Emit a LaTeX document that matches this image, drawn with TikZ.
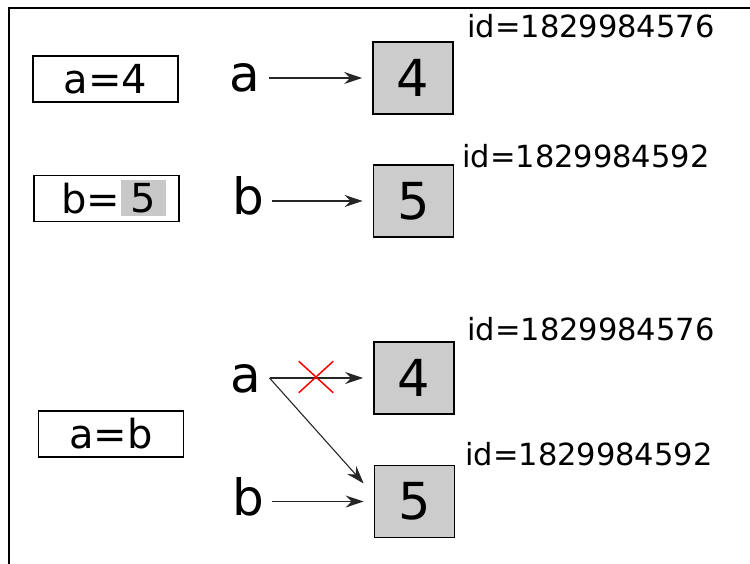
\documentclass[tikz,border=0pt]{standalone}
\usepackage{fontspec}
\setmainfont{DejaVu Sans}
\usetikzlibrary{arrows.meta,shapes.misc}
\definecolor{cellgray}{HTML}{CCCCCC}
\definecolor{hlgray}{HTML}{C8C8C8}
\tikzset{
  assign/.style={draw=black, line width=1.4pt, minimum width=145pt, minimum height=46pt,
    inner sep=0pt, font=\fontsize{40}{48}\selectfont},
  valbox/.style={draw=black, fill=cellgray, line width=1.6pt, minimum width=80pt,
    minimum height=72pt, inner sep=0pt, font=\fontsize{51}{60}\selectfont},
  varname/.style={inner sep=0pt, anchor=base, font=\fontsize{50}{60}\selectfont},
  idlabel/.style={inner sep=0pt, anchor=base west, font=\fontsize{30.5}{36}\selectfont},
  ref/.style={draw=black!85, line width=1.1pt,
    -{Stealth[length=18pt,width=12pt,inset=6pt]}, shorten >=10pt},
}
\begin{document}
\begin{tikzpicture}[x=1pt, y=-1pt]
\useasboundingbox (0,0) rectangle (750,564);
% frame
\draw[line width=1.5pt] (9,564) -- (9,8) -- (750,8);

% assignment statements
\node[assign] (seta) at (105.5,79) {a=4};
\node[assign] (setb) at (106.5,198.5) {};
\node[inner sep=0pt, anchor=base west, font=\fontsize{40}{48}\selectfont] (bt) at (61,214) {b=};
\node[fill=hlgray, minimum width=45pt, minimum height=36pt, inner sep=0pt,
  font=\fontsize{40}{48}\selectfont] (h5) at (143.5,198) {5};
\node[assign] (setab) at (111,434) {a=b};

% first step: a = 4
\node[varname] (la1) at (245,92) {a};
\node[valbox] (v4a) at (413,78) {4};
\node[idlabel] (id1) at (467,38) {id=1829984576};
\draw[ref] ([xshift=8pt]la1.east |- v4a.west) -- (v4a.west);

% second step: b = 5
\node[varname] (lb1) at (248,215) {b};
\node[valbox] (v5a) at (413.5,201) {5};
\node[idlabel] (id2) at (462,168) {id=1829984592};
\draw[ref] ([xshift=8pt]lb1.east |- v5a.west) -- (v5a.west);

% third step: a = b
\node[varname] (la2) at (246,392) {a};
\node[valbox] (v4b) at (414,378) {4};
\node[idlabel] (id3) at (467,340) {id=1829984576};
\node[varname] (lb2) at (248,515) {b};
\node[valbox] (v5b) at (414.5,501.5) {5};
\node[idlabel] (id4) at (465,465) {id=1829984592};

\coordinate (astart) at ([xshift=8pt]la2.east |- v4b.west);
\coordinate (aend) at ([xshift=-10pt,yshift=18pt]v5b.west);
\draw[ref] (astart) -- (v4b.west);
\draw[ref, shorten >=0pt] (astart) -- (aend);
\draw[ref] ([xshift=8pt]lb2.east |- v5b.west) -- (v5b.west);
\node[cross out, draw=red, line width=1.5pt, minimum width=33pt, minimum height=30pt,
  inner sep=0pt] (cut) at (316,377) {};
\end{tikzpicture}
\end{document}
